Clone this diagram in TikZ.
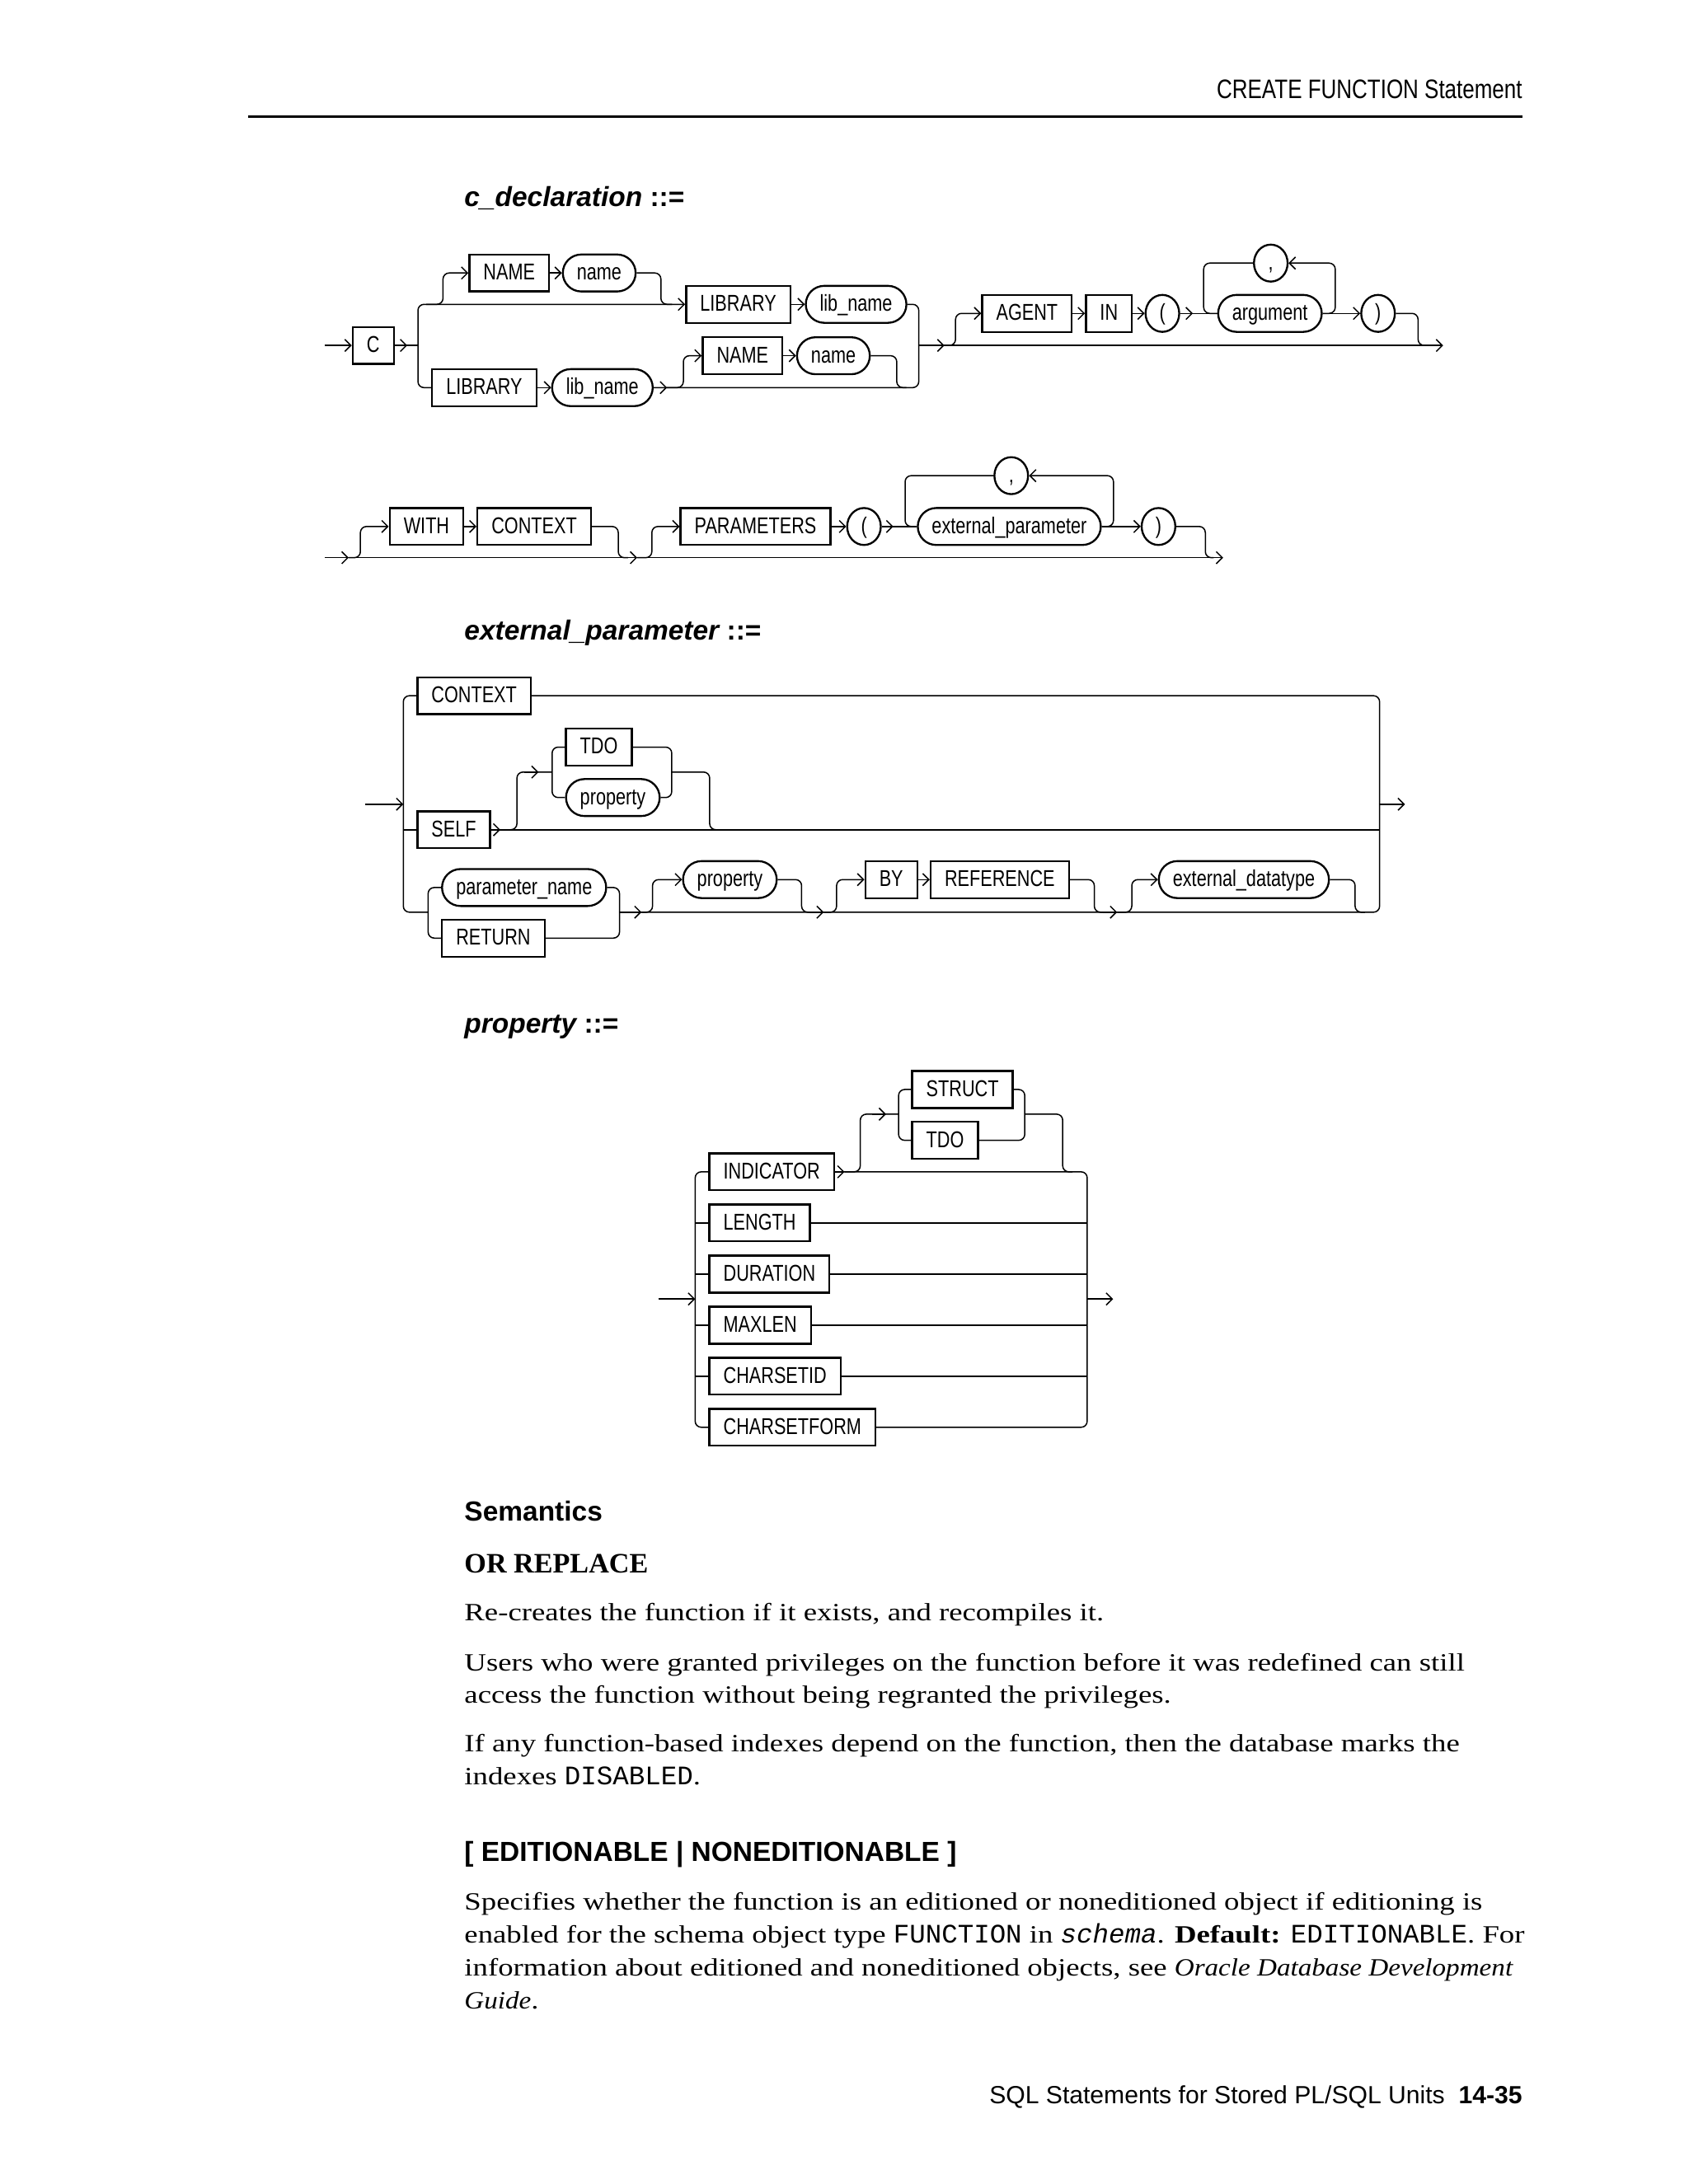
\documentclass[tikz,border=0pt]{standalone}
\usepackage{fontspec}
\setmainfont{Liberation Serif}
\setsansfont{Liberation Sans}
\setmonofont{Liberation Mono}
\newfontfamily\railfont{Liberation Sans}[FakeStretch=0.78]
\newfontfamily\headfont{Liberation Sans}[FakeStretch=0.8]
\newfontfamily\bodyfont{Liberation Serif}[FakeStretch=1.22]
\newfontfamily\bodyitfont{Liberation Serif}[FakeStretch=1.1]
\usetikzlibrary{arrows.meta,shapes.geometric,calc}
\newcommand{\sqlkw}[1]{{\ttfamily\fontsize{9.7}{12}\selectfont #1}}
\newcommand{\sqlvar}[1]{{\ttfamily\itshape\fontsize{9.7}{12}\selectfont #1}}
\newcommand{\booktitle}[1]{{\bodyitfont\itshape #1}}

\begin{document}
\begin{tikzpicture}[x=0.50495pt,y=-0.50495pt,
 rail/.style={line width=0.45pt,rounded corners=2.2pt},
 arr/.style={-{Straight Barb[length=2.2pt,width=4.4pt]}},
 kw/.style={draw,line width=0.7pt,anchor=west,minimum height=13.4pt,inner xsep=5.1pt,inner ysep=0pt,text height=6pt,text depth=1pt,font=\railfont\fontsize{8.3}{9}\selectfont},
 ident/.style={kw,rounded corners=6.7pt},
 sym/.style={kw,ellipse,minimum width=12.2pt,inner xsep=0pt},
 ttl/.style={anchor=base west,inner sep=0pt,font=\sffamily\bfseries\fontsize{10}{12}\selectfont},
 txt/.style={anchor=base west,inner sep=0pt,font=\bodyfont\fontsize{9}{12}\selectfont}
]
\fill[white] (0,0) rectangle (1212,1568);
\useasboundingbox (0,0) rectangle (1212,1568);

\node[anchor=base east,inner sep=0pt,font=\headfont\fontsize{9.7}{11}\selectfont] (hdr) at (1093,71) {CREATE FUNCTION Statement};
\draw[line width=0.9pt] (178,84) -- (1093,84);

\node[ttl] (t1) at (333,148.5) {\itshape c\_declaration \upshape::=};
\coordinate (start1) at (233,248);
\coordinate (fork1) at (300,248);
\coordinate (join1) at (659.5,248);
\coordinate (b1) at (677.9,248);
\coordinate (end1) at (1035.9,248);
\node[kw] (c) at (252.5,248) {C};
\node[kw] (name1) at (336.2,196) {NAME};
\node[ident] (nm1) at (403.3,196) {name};
\node[kw] (lib1) at (491.8,218.5) {LIBRARY};
\node[ident] (libn1) at (577.7,218.5) {lib\_name};
\node[kw] (lib2) at (309.5,278.3) {LIBRARY};
\node[ident] (libn2) at (395.6,278.3) {lib\_name};
\node[kw] (name2) at (503.7,255.4) {NAME};
\node[ident] (nm2) at (571.4,255.4) {name};
\node[kw] (agent) at (704.3,225) {AGENT};
\node[kw] (in) at (778.8,225) {IN};
\node[sym] (lp1) at (821.6,225) {(};
\node[ident] (arg) at (873.7,225) {argument};
\node[sym] (cm1) at (899.4,188.9) {,};
\node[sym] (rp1) at (976.4,225) {)};
\draw[rail,arr] (start1) -- (c.west);
\draw[rail] (c.east) -- (fork1);
\draw[rail,arr] (c.east) -- +(9,0);
\draw[rail,arr] (fork1) |- (lib1.west);
\draw[rail,arr] ($(fork1|-lib1.west)+(6,0)$) -- ++(12,0) |- (name1.west);
\draw[rail,arr] (name1.east) -- (nm1.west);
\draw[rail] (nm1.east) -| ($(lib1.west)+(-17.4,0)$) -- ++(8,0);
\draw[rail,arr] (lib1.east) -- (libn1.west);
\draw[rail] (libn1.east) -| (join1);
\draw[rail] (fork1) |- (lib2.west);
\draw[rail,arr] (lib2.east) -- (libn2.west);
\draw[rail] (libn2.east) -| (join1);
\draw[rail,arr] (libn2.east) -- +(9.6,0);
\draw[rail,arr] ($(libn2.east)+(9.6,0)$) -- ++(11.7,0) |- (name2.west);
\draw[rail,arr] (name2.east) -- (nm2.west);
\draw[rail] (nm2.east) -| ($(join1)+(-15.8,30.3)$) -- ++(7,0);
\draw[rail,arr] (join1) -- (end1);
\draw[rail,arr] (join1) -- (b1);
\draw[rail,arr] (b1) -- ++(8,0) |- (agent.west);
\draw[rail,arr] (agent.east) -- (in.west);
\draw[rail,arr] (in.east) -- (lp1.west);
\draw[rail] (lp1.east) -- (arg.west);
\draw[rail,arr] (lp1.east) -- +(9.1,0);
\draw[rail] (cm1.west) -| ($(arg.west)+(-9.7,0)$) -- (arg.west);
\draw[rail,arr] (arg.east) -- ++(9,0) |- (cm1.east);
\draw[rail,arr] (arg.east) -- (rp1.west);
\draw[rail] (rp1.east) -| ($(end1)+(-18,0)$) -- ++(7,0);

\coordinate (start2) at (233.3,400.4);
\coordinate (end2) at (878,400.4);
\node[kw] (with) at (279,378) {WITH};
\node[kw] (ctx1) at (342,378) {CONTEXT};
\node[kw] (params) at (487.8,378) {PARAMETERS};
\node[sym] (lp2) at (607.4,378) {(};
\node[ident] (extp) at (658.1,378) {external\_parameter};
\node[sym] (cm2) at (713.1,341.5) {,};
\node[sym] (rp2) at (818.8,378) {)};
\draw[rail,arr] (start2) -- (end2);
\draw[rail,arr] (start2) -- +(17,0);
\draw[rail,arr] ($(start2)+(17,0)$) -- ++(8.4,0) |- (with.west);
\draw[rail,arr] (with.east) -- (ctx1.west);
\draw[rail] (ctx1.east) -| ($(start2)+(210.5,0)$) -- ++(7,0);
\draw[rail,arr] (start2) -- +(224.1,0);
\draw[rail,arr] ($(start2)+(224.1,0)$) -- ++(10.5,0) |- (params.west);
\draw[rail,arr] (params.east) -- (lp2.west);
\draw[rail] (lp2.east) -- (extp.west);
\draw[rail,arr] (lp2.east) -- +(8.3,0);
\draw[rail] (cm2.west) -| ($(extp.west)+(-8.4,0)$) -- (extp.west);
\draw[rail,arr] (extp.east) -- ++(8.4,0) |- (cm2.east);
\draw[rail,arr] (extp.east) -- (rp2.west);
\draw[rail] (rp2.east) -| ($(end2)+(-12.8,0)$) -- ++(6,0);

\node[ttl] (t2) at (333,459.5) {\itshape external\_parameter \upshape::=};
\coordinate (start3) at (262.4,577.4);
\coordinate (fork3) at (289.5,577.4);
\coordinate (join3) at (990.3,577.4);
\coordinate (end3) at (1008.5,577.4);
\coordinate (ch1) at (307.3,654.9);
\coordinate (ch2) at (444.7,654.9);
\coordinate (ch3) at (396.3,554.3);
\coordinate (ch4) at (482.2,554.3);
\node[kw] (ctx2) at (298.9,499.5) {CONTEXT};
\node[kw] (self) at (298.9,595.7) {SELF};
\node[kw] (tdo1) at (405.6,536.4) {TDO};
\node[ident] (prop1) at (405.6,572.6) {property};
\node[ident] (pname) at (316.6,637.2) {parameter\_name};
\node[kw] (ret) at (316.6,673.5) {RETURN};
\node[ident] (prop2) at (489.6,631.5) {property};
\node[kw] (by) at (620.4,631.5) {BY};
\node[kw] (ref) at (667.3,631.5) {REFERENCE};
\node[ident] (extdt) at (831.1,631.5) {external\_datatype};
\draw[rail,arr] (start3) -- (fork3);
\draw[rail] (fork3) |- (ctx2.west);
\draw[rail] (ctx2.east) -| (join3);
\draw[rail] (fork3) |- (ch1);
\draw[rail] (fork3|-self.west) -- (self.west);
\draw[rail] (self.east) -- (join3|-self.east);
\draw[rail,arr] (self.east) -- +(6.6,0);
\draw[rail] ($(self.east)+(6.6,0)$) -- ++(11.9,0) |- (ch3);
\draw[rail,arr] ($(ch3)+(-19.7,0)$) -- ++(10,0);
\draw[rail] (ch3) |- (tdo1.west);
\draw[rail] (ch3) |- (prop1.west);
\draw[rail] (tdo1.east) -| (ch4);
\draw[rail] (prop1.east) -| (ch4);
\draw[rail] (ch4) -| ($(join3|-self.east)+(-480.9,0)$) -- ++(7,0);
\draw[rail] (ch1) |- (pname.west);
\draw[rail] (ch1) |- (ret.west);
\draw[rail] (pname.east) -| (ch2);
\draw[rail] (ret.east) -| (ch2);
\draw[rail] (ch2) -| (join3);
\draw[rail,arr] (ch2) -- +(15.8,0);
\draw[rail,arr] ($(ch2)+(15.8,0)$) -- ++(7.9,0) |- (prop2.west);
\draw[rail] (prop2.east) -| ($(ch2)+(130.7,0)$) -- ++(7,0);
\draw[rail,arr] ($(ch2)+(136.6,0)$) -- ++(10,0);
\draw[rail,arr] ($(ch2)+(146.6,0)$) -- ++(9.2,0) |- (by.west);
\draw[rail,arr] (by.east) -- (ref.west);
\draw[rail] (ref.east) -| ($(ch2)+(340.8,0)$) -- ++(7,0);
\draw[rail,arr] ($(ch2)+(347.2,0)$) -- ++(10,0);
\draw[rail,arr] ($(ch2)+(357.2,0)$) -- ++(10.5,0) |- (extdt.west);
\draw[rail] (extdt.east) -| ($(ch2)+(528,0)$) -- ++(7,0);
\draw[rail,arr] (join3) -- (end3);

\node[ttl] (t3) at (333,741.5) {\itshape property \upshape::=};
\coordinate (start4) at (472.5,932.6);
\coordinate (fork4) at (499,932.6);
\coordinate (join4) at (780.4,932.6);
\coordinate (end4) at (799,932.6);
\coordinate (ch5) at (645,799.9);
\coordinate (ch6) at (735.6,799.9);
\node[kw] (ind) at (508.5,841.3) {INDICATOR};
\node[kw] (len) at (508.5,878) {LENGTH};
\node[kw] (dur) at (508.5,914.7) {DURATION};
\node[kw] (maxl) at (508.5,951.4) {MAXLEN};
\node[kw] (csid) at (508.5,988) {CHARSETID};
\node[kw] (csform) at (508.5,1024.7) {CHARSETFORM};
\node[kw] (struct) at (654.1,782.2) {STRUCT};
\node[kw] (tdo2) at (654.1,818.7) {TDO};
\draw[rail,arr] (start4) -- (fork4);
\draw[rail] (fork4) |- (ind.west);
\draw[rail] (fork4) |- (csform.west);
\draw[rail] (fork4|-len.west) -- (len.west);
\draw[rail] (fork4|-dur.west) -- (dur.west);
\draw[rail] (fork4|-maxl.west) -- (maxl.west);
\draw[rail] (fork4|-csid.west) -- (csid.west);
\draw[rail] (ind.east) -| (join4);
\draw[rail] (csform.east) -| (join4);
\draw[rail] (len.east) -- (join4|-len.east);
\draw[rail] (dur.east) -- (join4|-dur.east);
\draw[rail] (maxl.east) -- (join4|-maxl.east);
\draw[rail] (csid.east) -- (join4|-csid.east);
\draw[rail,arr] (join4) -- (end4);
\draw[rail,arr] (ind.east) -- +(6.8,0);
\draw[rail] ($(ind.east)+(6.8,0)$) -- ++(11.3,0) |- (ch5);
\draw[rail,arr] ($(ch5)+(-19,0)$) -- ++(10,0);
\draw[rail] (ch5) |- (struct.west);
\draw[rail] (ch5) |- (tdo2.west);
\draw[rail] (struct.east) -| (ch6);
\draw[rail] (tdo2.east) -| (ch6);
\draw[rail] (ch6) -| ($(join4|-ind.east)+(-17.6,0)$) -- ++(7,0);

\node[ttl] (sem) at (333,1091.8) {Semantics};
\node[anchor=base west,inner sep=0pt,font=\rmfamily\bfseries\fontsize{10.2}{12}\selectfont] (orr) at (333,1129.3) {OR REPLACE};
\node[txt] (p1) at (333,1163.8) {Re-creates the function if it exists, and recompiles it.};
\node[txt] (p2) at (333,1199.4) {Users who were granted privileges on the function before it was redefined can still};
\node[txt] (p3) at (333,1223) {access the function without being regranted the privileges.};
\node[txt] (p4) at (333,1257.5) {If any function-based indexes depend on the function, then the database marks the};
\node[txt] (p5) at (333,1281.2) {indexes \sqlkw{DISABLED}.};
\node[ttl] (edh) at (333,1336.4) {[ EDITIONABLE | NONEDITIONABLE ]};
\node[txt] (p6) at (333,1371) {Specifies whether the function is an editioned or noneditioned object if editioning is};
\node[txt] (p7) at (333,1394.7) {enabled for the schema object type \sqlkw{FUNCTION} in \sqlvar{schema}. \textbf{Default:} \sqlkw{EDITIONABLE}. For};
\node[txt] (p8) at (333,1418.3) {information about editioned and noneditioned objects, see \booktitle{Oracle Database Development}};
\node[txt] (p9) at (333,1442) {\booktitle{Guide}.};

\node[anchor=base east,inner sep=0pt,font=\sffamily\fontsize{9}{11}\selectfont] (ftr) at (1093,1510) {SQL Statements for Stored PL/SQL Units\hspace{5pt}\textbf{14-35}};
\end{tikzpicture}
\end{document}
